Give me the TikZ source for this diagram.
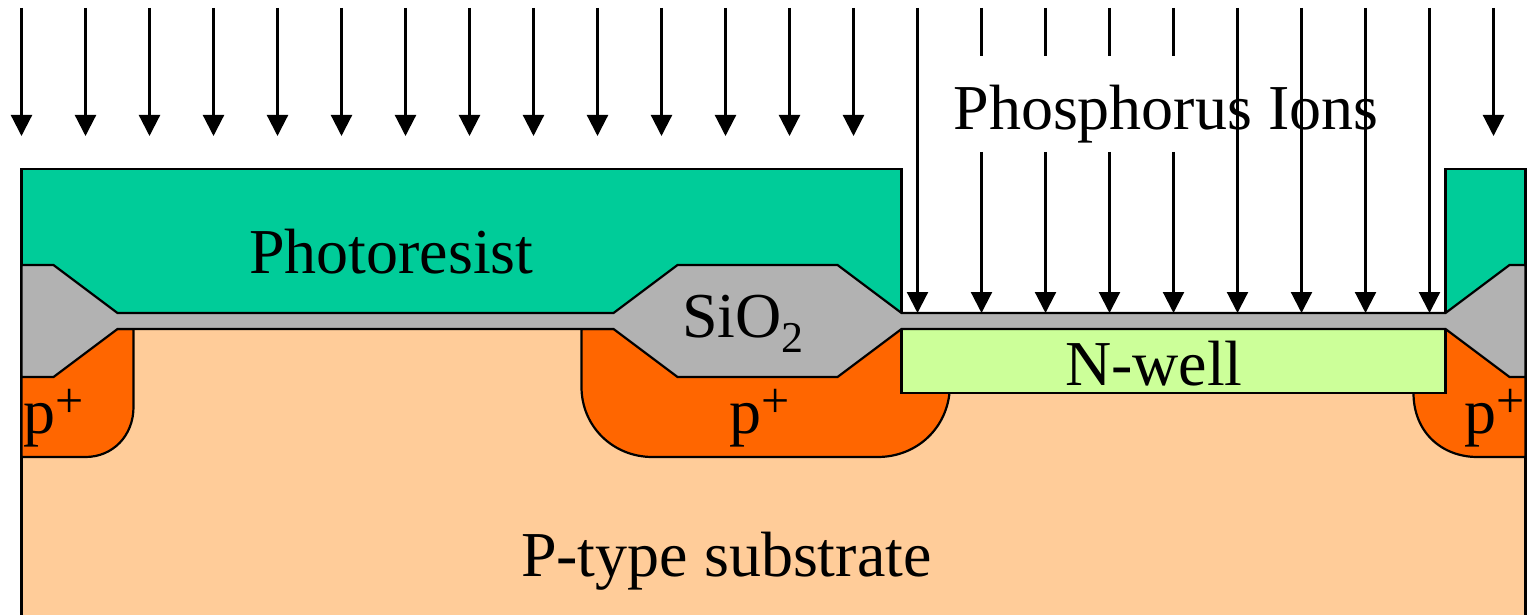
\documentclass[tikz,border=0pt]{standalone}
\usepackage{fontspec}
\setmainfont{Liberation Serif}
\usetikzlibrary{arrows.meta}
\definecolor{subst}{HTML}{FFCC99}
\definecolor{pplus}{HTML}{FF6600}
\definecolor{nwell}{HTML}{CCFF99}
\definecolor{resist}{HTML}{00CC99}
\definecolor{oxide}{HTML}{B2B2B2}
\newcommand{\supp}{\raisebox{8pt}{\fontsize{25pt}{25pt}\selectfont +}}
\newcommand{\subb}{\raisebox{-7.5pt}{\fontsize{22pt}{22pt}\selectfont 2}}
\tikzset{
  layer/.style={draw=black,line width=1.1pt,line join=miter},
  lbl/.style={anchor=base west,inner sep=0pt,outer sep=0pt,font=\fontsize{32pt}{32pt}\selectfont,text=black},
  ion/.style={draw=black,line width=1.1pt,-{Triangle[length=10.5pt,width=10.5pt]}},
  ionline/.style={draw=black,line width=1.1pt}
}
\begin{document}
\begin{tikzpicture}[x=0.5pt,y=-0.5pt]
\useasboundingbox (-0.5,0) rectangle (1526.5,615);
\begin{scope}
\clip (-0.5,0) rectangle (1526.5,615);
% substrate
\path[layer,fill=subst] (21,320) rectangle (1525,640);
% p+ regions
\path[layer,fill=pplus] (21,329) -- (133,329) -- (133,407) .. controls (133,436) and (112,457) .. (85,457) -- (21,457) -- cycle;
\path[layer,fill=pplus] (581,329) -- (930,329) -- (949,393) .. controls (945,430) and (915,457) .. (877,457) -- (652,457) .. controls (612,457) and (581,426) .. (581,387) -- cycle;
\path[layer,fill=pplus] (1413,393) -- (1445,329) -- (1525,370) -- (1525,457) -- (1477,457) .. controls (1441,457) and (1413,432) .. (1413,393) -- cycle;
% n-well
\path[layer,fill=nwell] (901,329) rectangle (1445,393);
% photoresist
\path[layer,fill=resist] (21,169) rectangle (901,320);
\path[layer,fill=resist] (1445,169) rectangle (1525,320);
% oxide
\path[layer,fill=oxide] (21,265) -- (53,265) -- (117,313) -- (613,313) -- (677,265) -- (837,265) -- (901,313) -- (1445,313) -- (1509,265) -- (1525,265) -- (1525,377) -- (1509,377) -- (1445,329) -- (901,329) -- (837,377) -- (677,377) -- (613,329) -- (117,329) -- (53,377) -- (21,377) -- cycle;
\end{scope}
% labels
\node[lbl] (photoresist) at (248.5,273) {Photoresist};
\node[lbl] (sio) at (681.5,337) {SiO\subb};
\node[lbl] (pa) at (23.5,433) {p\supp};
\node[lbl] (pb) at (728.5,433) {p\supp};
\node[lbl] (pc) at (1463.5,433) {p\supp};
\node[lbl] (nw) at (1064.5,385) {N-well};
\node[lbl] (sub) at (520.5,576) {P-type substrate};
\node[lbl] (ions) at (953,130) {Phosphorus Ions};
% ions
\foreach \x in {21,85,...,853,1493}
  \path[ion] (\x,8) -- (\x,136);
\foreach \x in {917,1237,1301,1365,1429}
  \path[ion] (\x,8) -- (\x,313);
\foreach \x in {981,1045,1109,1173}{
  \path[ionline] (\x,8) -- (\x,56);
  \path[ion] (\x,152) -- (\x,313);
}
\end{tikzpicture}
\end{document}
